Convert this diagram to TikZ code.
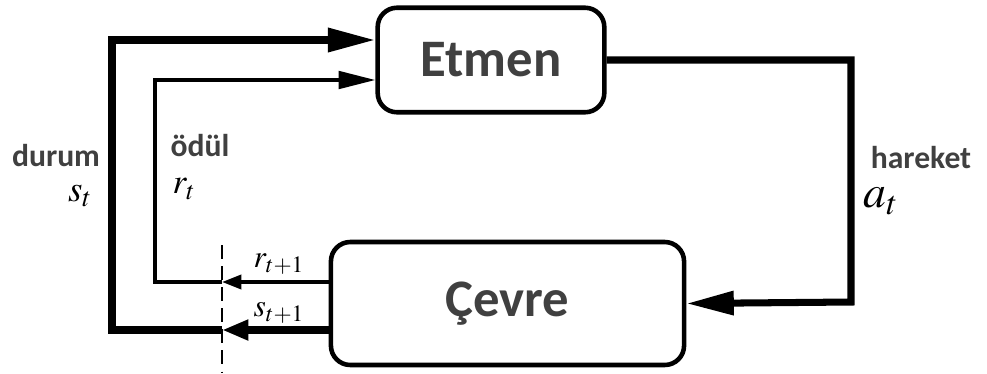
\documentclass[tikz,border=0pt]{standalone}
\usepackage{mathptmx}
\usepackage{fontspec}
\setsansfont{Carlito}
\usetikzlibrary{arrows.meta}
\definecolor{txtgray}{HTML}{404040}
\begin{document}
\begin{tikzpicture}[x=0.02cm,y=-0.02cm,
    box/.style={draw,line width=2.6pt,rounded corners=11pt,
        font=\sffamily\bfseries\fontsize{30}{36}\selectfont,text=txtgray},
    word/.style={inner sep=0pt,font=\sffamily\bfseries\fontsize{18}{22}\selectfont,text=txtgray},
    sym/.style={inner sep=0pt},
    heavy/.style={line width=4pt},
    light/.style={line width=2pt},
    bigtip/.style={-{Triangle[length=27pt,width=13pt]}},
    midtip/.style={-{Triangle[length=21pt,width=10pt]}},
    smalltip/.style={-{Triangle[length=15pt,width=11pt]}},
    tinytip/.style={-{Triangle[length=11pt,width=8pt]}}]
\useasboundingbox (0,0) rectangle (987,373);
\node[box,minimum width=129pt,minimum height=59.5pt] (etmen) at (491,60) {Etmen};
\node[box,minimum width=201pt,minimum height=70pt] (cevre) at (507.5,303.5) {Çevre};
% cut line between t+1 and t
\coordinate (cuttop) at (222,245);
\coordinate (cutbot) at (222,373);
\draw[dashed,line width=1pt,dash pattern=on 8pt off 4pt] (cuttop)--(cutbot);
\coordinate (cutS) at (222,330);
\coordinate (cutR) at (222,282);
% state
\draw[heavy,smalltip](cevre.west|-cutS)--(cutS);
\draw[heavy,bigtip](cutS)-|(112,40)--(etmen.west|-0,40);
% reward
\draw[light,tinytip](cevre.west|-cutR)--(cutR);
\draw[light,midtip](cutR)-|(155,80)--(etmen.west|-0,80);
% action
\draw[heavy,bigtip](etmen.east)-|(851,302)--(cevre.east);
\node[word] (durum) at (56,156) {durum};
\node[sym,font=\fontsize{21}{24}\selectfont] (st) at (80,196) {$s_t$};
\node[word] (odul) at (200,146) {ödül};
\node[sym,font=\fontsize{20}{24}\selectfont] (rt) at (184,189) {$r_t$};
\node[word] (hareket) at (921,158) {hareket};
\node[sym,font=\fontsize{26}{30}\selectfont] (at) at (881,201) {$a_t$};
\node[sym,font=\fontsize{18}{22}\selectfont] (rnext) at (279,264) {$r_{t+1}$};
\node[sym,font=\fontsize{18}{22}\selectfont] (snext) at (279,313) {$s_{t+1}$};
\end{tikzpicture}
\end{document}
